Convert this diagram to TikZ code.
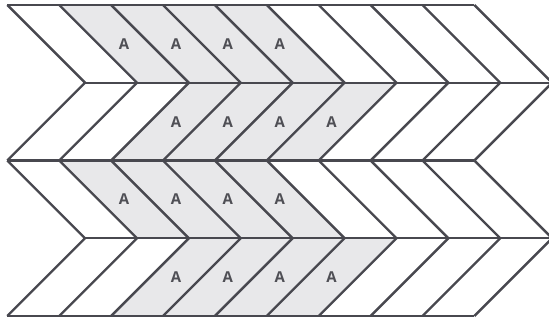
\documentclass[tikz,border=0pt]{standalone}
\usepackage{fontspec}
\setsansfont{Open Sans}
\definecolor{edgegray}{HTML}{48484F}
\definecolor{cellgray}{HTML}{E8E8EA}
\definecolor{lettergray}{HTML}{4F4F55}

\begin{document}
\begin{tikzpicture}[x=1pt,y=-1pt,
  edge/.style={line width=2.4pt, draw=edgegray, line join=miter},
  cell/.style={fill=cellgray},
  tag/.style={text=lettergray, font=\sffamily\bfseries\fontsize{15}{15}\selectfont}]
  % page frame
  \useasboundingbox (0,0) rectangle (549,320);
  \clip (0,0) rectangle (549,320);
  \def\xstart{7.3}
  \def\cellw{51.9}
  \def\slant{77.75}
  
  % two chevron bands, each made of an upper and a lower half-row
  \foreach \b in {0,1} {
    \pgfmathsetmacro\yt{5+155.5*\b}
    \pgfmathsetmacro\ym{\yt+77.75}
    \pgfmathsetmacro\yb{\yt+155.5}
    
    % shaded cells of the upper half-row
    \foreach \k in {1,...,4} {
      \fill[cell] ({\xstart+\cellw*\k},\yt) -- ++(\cellw,0) -- ++(\slant,77.75) -- ++(-\cellw,0) -- cycle;
      \node[tag] (a-\b-up-\k) at ({\xstart+\cellw*(\k+0.5)+\slant/2},{\yt+38.9}) {A};
    }
    % shaded cells of the lower half-row
    \foreach \k in {2,...,5} {
      \fill[cell] ({\xstart+\slant+\cellw*\k},\ym) -- ++(\cellw,0) -- ++(-\slant,77.75) -- ++(-\cellw,0) -- cycle;
      \node[tag] (a-\b-lo-\k) at ({\xstart+\cellw*(\k+0.5)+\slant/2},{\ym+38.9}) {A};
    }
    
    % horizontal lines
    \draw[edge] (\xstart,\yt) -- ++(9*\cellw,0);
    \draw[edge] ({\xstart+\slant},\ym) -- (560,\ym);
    \draw[edge] (\xstart,\yb) -- ++(9*\cellw,0);
    
    % the chevrons
    \foreach \k in {0,...,9}
      \draw[edge] ({\xstart+\cellw*\k},\yt) -- ++(\slant,77.75) -- ++(-\slant,77.75);
  }
\end{tikzpicture}
\end{document}
